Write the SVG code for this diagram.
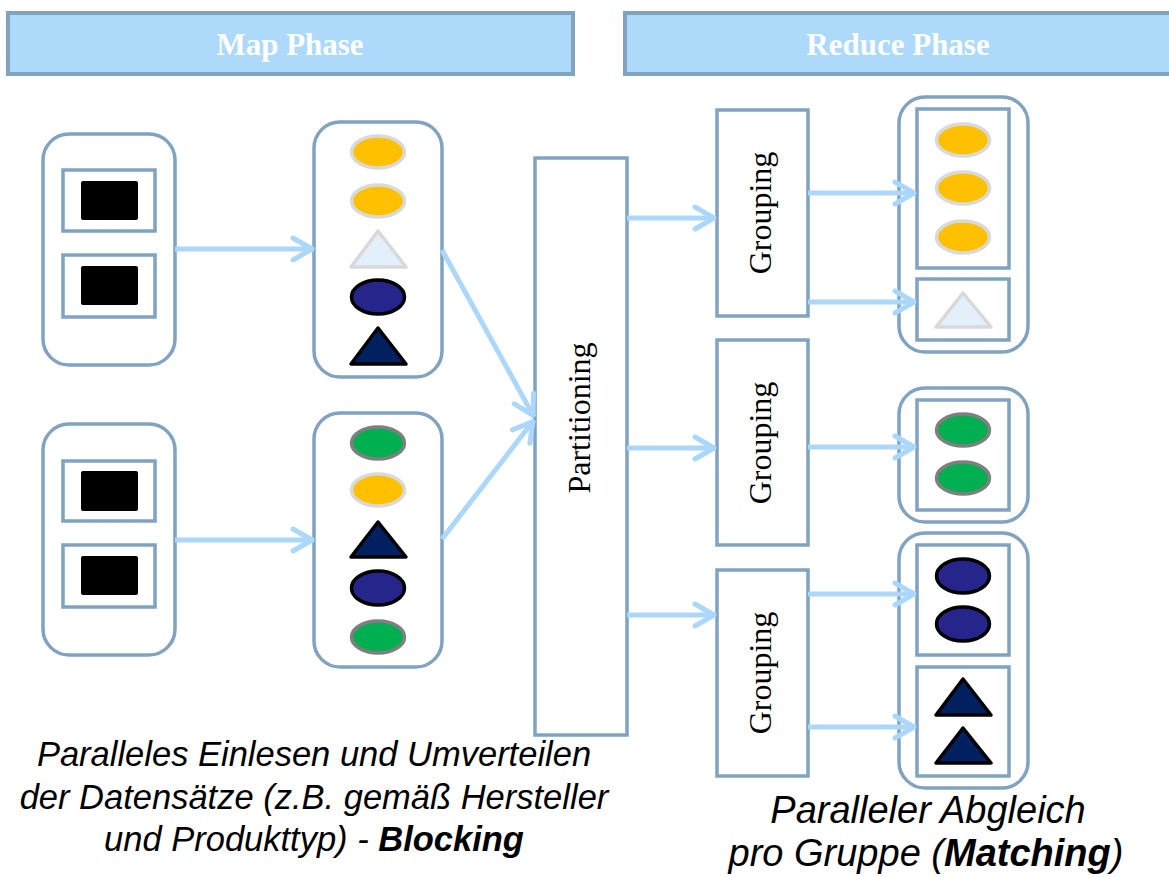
<svg xmlns="http://www.w3.org/2000/svg" width="1169" height="877" viewBox="0 0 1169 877">
<style>
.hdr{fill:#add9fb;stroke:#7fa3c1;stroke-width:4}
.hdrt{font-family:"Liberation Serif",serif;font-weight:bold;font-size:31px;fill:#ffffff;text-anchor:middle}
.box{fill:#ffffff;stroke:#7fa3c1;stroke-width:3.5}
.blk{fill:#000000}
.lbl{font-family:"Liberation Serif",serif;font-size:32px;fill:#000000;text-anchor:middle}
.yel{fill:#ffc000;stroke:#d9d9d9;stroke-width:3.5}
.grn{fill:#00b050;stroke:#7f7f7f;stroke-width:3.5}
.dke{fill:#25258c;stroke:#000000;stroke-width:3.5}
.dkt{fill:#002060;stroke:#000000;stroke-width:3.5;stroke-linejoin:round}
.lt{fill:#e3f0fb;stroke:#d9d9d9;stroke-width:3.5;stroke-linejoin:round}
.cap{font-family:"Liberation Sans",Arial,sans-serif;font-style:italic;fill:#000000;text-anchor:middle}
.arr{fill:none;stroke:#abd8fa;stroke-width:5;marker-end:url(#ah)}
</style>
<defs>
<marker id="ah" markerUnits="userSpaceOnUse" viewBox="-26 -16 30 32" refX="0" refY="0" markerWidth="30" markerHeight="32" orient="auto">
<path d="M-21,-11 L-2,0 L-21,11" fill="none" stroke="#abd8fa" stroke-width="5" stroke-linecap="round" stroke-linejoin="round"/>
</marker>
</defs>
<rect width="1169" height="877" fill="#ffffff"/>

<g id="map-phase">
<rect class="hdr" x="8" y="13" width="565" height="61"/>
<text class="hdrt" x="290" y="55">Map Phase</text>
</g>
<g id="reduce-phase">
<rect class="hdr" x="625" y="13" width="560" height="61"/>
<text class="hdrt" x="898" y="55">Reduce Phase</text>
</g>

<g id="input1">
<rect class="box" x="43" y="134" width="132" height="231" rx="26"/>
<rect class="box" x="63" y="170" width="92" height="61"/>
<rect class="blk" x="81" y="181" width="57" height="39" rx="2"/>
<rect class="box" x="63" y="255" width="92" height="62"/>
<rect class="blk" x="81" y="266" width="57" height="39" rx="2"/>
</g>
<g id="input2">
<rect class="box" x="43" y="424" width="132" height="231" rx="26"/>
<rect class="box" x="63" y="461" width="92" height="60"/>
<rect class="blk" x="81" y="471" width="57" height="40" rx="2"/>
<rect class="box" x="63" y="545" width="92" height="62"/>
<rect class="blk" x="81" y="556" width="57" height="39" rx="2"/>
</g>

<g id="map1">
<rect class="box" x="314" y="122" width="128" height="255" rx="26"/>
<ellipse class="yel" cx="378" cy="152" rx="26.5" ry="16"/>
<ellipse class="yel" cx="378" cy="201" rx="26.5" ry="16"/>
<polygon class="lt" points="351,267 378,231 406,267"/>
<ellipse class="dke" cx="378" cy="297" rx="26.5" ry="17"/>
<polygon class="dkt" points="351,364 378,328 406,364"/>
</g>
<g id="map2">
<rect class="box" x="314" y="413" width="128" height="254" rx="26"/>
<ellipse class="grn" cx="378" cy="443" rx="26.5" ry="16"/>
<ellipse class="yel" cx="378" cy="490" rx="26.5" ry="16"/>
<polygon class="dkt" points="351,557 378,522 406,557"/>
<ellipse class="dke" cx="378" cy="588" rx="26.5" ry="17"/>
<ellipse class="grn" cx="378" cy="637" rx="26.5" ry="16"/>
</g>

<g id="partitioning">
<rect class="box" x="535" y="158" width="92" height="577"/>
<text class="lbl" transform="translate(590,418) rotate(-90)">Partitioning</text>
</g>

<g id="grouping1">
<rect class="box" x="717" y="110" width="91" height="206"/>
<text class="lbl" transform="translate(771,213) rotate(-90)">Grouping</text>
</g>
<g id="grouping2">
<rect class="box" x="717" y="340" width="91" height="205"/>
<text class="lbl" transform="translate(771,443) rotate(-90)">Grouping</text>
</g>
<g id="grouping3">
<rect class="box" x="717" y="570" width="91" height="206"/>
<text class="lbl" transform="translate(771,673) rotate(-90)">Grouping</text>
</g>

<g id="result1">
<rect class="box" x="899" y="97" width="129" height="255" rx="26"/>
<rect class="box" x="917" y="109" width="92" height="159"/>
<ellipse class="yel" cx="963" cy="140" rx="26.5" ry="16"/>
<ellipse class="yel" cx="963" cy="188" rx="26.5" ry="16"/>
<ellipse class="yel" cx="963" cy="237" rx="26.5" ry="16"/>
<rect class="box" x="917" y="279" width="92" height="61"/>
<polygon class="lt" points="936,327 963,293 991,327"/>
</g>
<g id="result2">
<rect class="box" x="899" y="388" width="129" height="134" rx="26"/>
<rect class="box" x="917" y="400" width="92" height="110"/>
<ellipse class="grn" cx="963" cy="430" rx="26.5" ry="16"/>
<ellipse class="grn" cx="963" cy="478" rx="26.5" ry="16"/>
</g>
<g id="result3">
<rect class="box" x="899" y="533" width="129" height="255" rx="26"/>
<rect class="box" x="917" y="545" width="92" height="110"/>
<ellipse class="dke" cx="963" cy="576" rx="26.5" ry="17"/>
<ellipse class="dke" cx="963" cy="624" rx="26.5" ry="17"/>
<rect class="box" x="917" y="667" width="92" height="109"/>
<polygon class="dkt" points="936,715 963,679 991,715"/>
<polygon class="dkt" points="936,763 963,728 991,763"/>
</g>

<g id="connectors">
<line class="arr" x1="175" y1="249" x2="314" y2="249"/>
<line class="arr" x1="175" y1="540" x2="314" y2="540"/>
<line class="arr" x1="442" y1="250" x2="534" y2="417"/>
<line class="arr" x1="442" y1="539" x2="534" y2="420"/>
<line class="arr" x1="627" y1="218" x2="716" y2="218"/>
<line class="arr" x1="627" y1="448" x2="716" y2="448"/>
<line class="arr" x1="627" y1="615" x2="716" y2="615"/>
<line class="arr" x1="808" y1="193" x2="916" y2="193"/>
<line class="arr" x1="808" y1="302" x2="916" y2="302"/>
<line class="arr" x1="808" y1="447" x2="916" y2="447"/>
<line class="arr" x1="808" y1="594" x2="916" y2="594"/>
<line class="arr" x1="808" y1="727" x2="916" y2="727"/>
</g>

<g id="caption-map">
<text class="cap" font-size="34.5" x="314" y="766">Paralleles Einlesen und Umverteilen</text>
<text class="cap" font-size="34.5" x="314" y="809">der Datensätze (z.B. gemäß Hersteller</text>
<text class="cap" font-size="34.5" x="314" y="851">und Produkttyp) - <tspan font-weight="bold">Blocking</tspan></text>
</g>
<g id="caption-reduce">
<text class="cap" font-size="38" x="928" y="823">Paralleler Abgleich</text>
<text class="cap" font-size="38" x="926" y="866">pro Gruppe (<tspan font-weight="bold">Matching</tspan>)</text>
</g>
</svg>
